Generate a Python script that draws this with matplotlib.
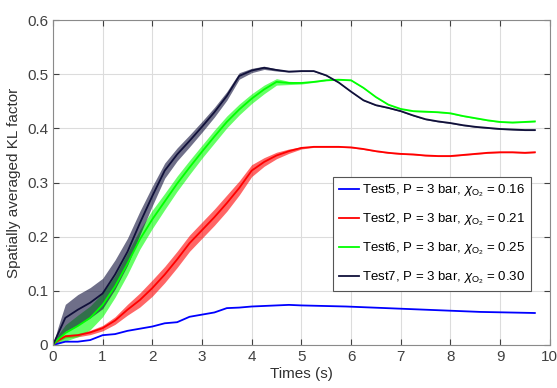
import matplotlib
matplotlib.use("Agg")
import matplotlib.pyplot as plt
import numpy as np

plt.rcParams['font.family'] = ['Liberation Sans', 'DejaVu Sans']
plt.rcParams['mathtext.fontset'] = 'custom'
plt.rcParams['mathtext.rm'] = 'Liberation Sans'
plt.rcParams['mathtext.it'] = 'Liberation Sans:italic'

# ---- data ----
t_test5 = [0, 0.25, 0.5, 0.75, 1.0, 1.25, 1.5, 1.75, 2.0, 2.25, 2.5, 2.75, 3.0, 3.25, 3.5,
           3.75, 4.0, 4.25, 4.5, 4.75, 5.0, 5.9, 7.25, 8.6, 9.7]
v_test5 = [0, 0.006, 0.006, 0.009, 0.018, 0.020, 0.026, 0.030, 0.034, 0.040, 0.042, 0.052, 0.056, 0.060, 0.068,
           0.069, 0.071, 0.072, 0.073, 0.074, 0.073, 0.071, 0.066, 0.061, 0.059]

t_common = [0, 0.1, 0.25, 0.5, 0.75, 1.0, 1.25, 1.5, 1.75, 2.0, 2.25, 2.5, 2.75, 3.0, 3.25, 3.5,
            3.75, 4.0, 4.25, 4.5, 4.75, 5.0, 5.25, 5.5, 5.75, 6.0, 6.25, 6.5, 6.75, 7.0, 7.25,
            7.5, 7.75, 8.0, 8.25, 8.5, 8.75, 9.0, 9.25, 9.5, 9.7]

v_test2 = [0, 0.008, 0.016, 0.018, 0.023, 0.031, 0.045, 0.065, 0.083, 0.105, 0.130, 0.158, 0.188, 0.212, 0.236, 0.262,
           0.290, 0.322, 0.338, 0.350, 0.358, 0.364, 0.366, 0.366, 0.366, 0.365, 0.362, 0.358, 0.355, 0.353, 0.352,
           0.350, 0.349, 0.349, 0.351, 0.353, 0.355, 0.356, 0.356, 0.355, 0.356]
a_test2 = [0, 0.002, 0.003, 0.003, 0.004, 0.005, 0.007, 0.010, 0.013, 0.015, 0.015, 0.015, 0.015, 0.015, 0.015, 0.015,
           0.013, 0.011, 0.008, 0.006, 0.004, 0.002, 0.001, 0.001, 0.001, 0.001, 0.001, 0.001, 0.001, 0.001, 0.001,
           0.001, 0.001, 0.001, 0.001, 0.001, 0.001, 0.001, 0.001, 0.001, 0.001]

v_test6 = [0, 0.010, 0.022, 0.035, 0.050, 0.074, 0.108, 0.150, 0.195, 0.232, 0.265, 0.298, 0.328, 0.357, 0.385, 0.412,
           0.435, 0.455, 0.472, 0.486, 0.484, 0.484, 0.486, 0.489, 0.490, 0.489, 0.475, 0.458, 0.444, 0.436, 0.432,
           0.431, 0.430, 0.428, 0.423, 0.419, 0.415, 0.412, 0.411, 0.412, 0.413]
a_test6 = [0, 0.008, 0.015, 0.020, 0.022, 0.022, 0.020, 0.020, 0.018, 0.017, 0.015, 0.014, 0.013, 0.012, 0.012, 0.011,
           0.010, 0.009, 0.008, 0.006, 0.003, 0.002, 0.001, 0.001, 0.001, 0.001, 0.001, 0.001, 0.001, 0.001, 0.001,
           0.001, 0.001, 0.001, 0.001, 0.001, 0.001, 0.001, 0.001, 0.001, 0.001]

v_test7 = [0, 0.020, 0.050, 0.065, 0.078, 0.095, 0.130, 0.172, 0.225, 0.275, 0.322, 0.352, 0.377, 0.403, 0.430, 0.460,
           0.497, 0.507, 0.512, 0.508, 0.505, 0.506, 0.506, 0.498, 0.485, 0.468, 0.452, 0.443, 0.438, 0.432, 0.424,
           0.417, 0.413, 0.410, 0.406, 0.403, 0.401, 0.399, 0.398, 0.397, 0.397]
a_test7 = [0, 0.012, 0.025, 0.028, 0.028, 0.028, 0.027, 0.025, 0.022, 0.018, 0.014, 0.012, 0.011, 0.010, 0.009, 0.008,
           0.006, 0.004, 0.003, 0.002, 0.001, 0.001, 0.001, 0.001, 0.001, 0.001, 0.001, 0.001, 0.001, 0.001, 0.001,
           0.001, 0.001, 0.001, 0.001, 0.001, 0.001, 0.001, 0.001, 0.001, 0.001]

labels = [r'Test5, P = 3 bar, $\chi_{\mathrm{O}_2}$ = 0.16',
          r'Test2, P = 3 bar, $\chi_{\mathrm{O}_2}$ = 0.21',
          r'Test6, P = 3 bar, $\chi_{\mathrm{O}_2}$ = 0.25',
          r'Test7, P = 3 bar, $\chi_{\mathrm{O}_2}$ = 0.30']
colors = ['#0000ff', '#ff0000', '#00ff00', '#10103a']

x_ticks = [0, 1, 2, 3, 4, 5, 6, 7, 8, 9, 10]
y_ticks = [0, 0.1, 0.2, 0.3, 0.4, 0.5, 0.6]

fig = plt.figure(figsize=(5.57, 3.88), dpi=100)
ax = fig.add_axes([0.095, 0.111, 0.892, 0.837])

ax.plot(t_test5, v_test5, color=colors[0], lw=1.3, label=labels[0])
series = [(v_test2, a_test2), (v_test6, a_test6), (v_test7, a_test7)]
for (v, a), c, lab in zip(series, colors[1:], labels[1:]):
    v = np.array(v); a = np.array(a)
    ax.fill_between(t_common, v - a, v + a, color=c, alpha=0.6, lw=0)
    ax.plot(t_common, v, color=c, lw=1.3, label=lab)

ax.set_xlim(0, 10)
ax.set_ylim(0, 0.6)
ax.set_xticks(x_ticks)
ax.set_yticks(y_ticks)
ax.set_xticklabels([str(x) for x in x_ticks])
ax.set_yticklabels(['0', '0.1', '0.2', '0.3', '0.4', '0.5', '0.6'])
ax.grid(True, color='#dcdcdc', lw=0.8)
ax.set_axisbelow(True)
ax.tick_params(direction='in', top=True, right=True, colors='#404040', labelsize=11, length=4)
for s in ax.spines.values():
    s.set_color('#8a8a8a')
ax.set_xlabel('Times (s)', fontsize=11, color='#303030', labelpad=2)
ax.set_ylabel('Spatially averaged KL factor', fontsize=11, color='#303030', labelpad=4)

leg = ax.legend(loc='upper right', bbox_to_anchor=(0.962, 0.517), fontsize=9.5,
                handlelength=1.5, handletextpad=0.3, labelspacing=0.95, borderpad=0.4,
                fancybox=False, framealpha=1, edgecolor='#555555', borderaxespad=0)
leg.get_frame().set_linewidth(0.8)

fig.savefig('out.png', dpi=100)
